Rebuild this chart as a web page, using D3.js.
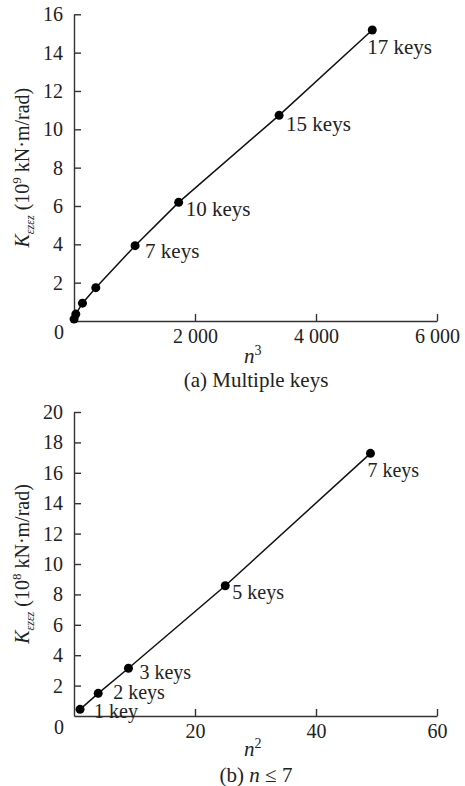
<!DOCTYPE html>
<html>
<head>
<meta charset="utf-8">
<script src="https://cdn.jsdelivr.net/npm/d3@7"></script>
<style>
  body { margin: 0; background: #fff; }
  svg { display: block; font-family: "Liberation Serif", "Times New Roman", serif; }
  .axis path, .axis line { stroke: #333; stroke-width: 1.4; }
  .axis text { font-size: 20px; fill: #222; font-family: "Liberation Serif", serif; }
</style>
</head>
<body>
<svg width="465" height="786"></svg>
<script>
// Grafico (a): chiavi multiple, K contro n^3
const nCubed = [1, 30, 140, 360, 1010, 1730, 3390, 4930];
const kMulti = [0.1, 0.36, 0.93, 1.74, 3.93, 6.19, 10.73, 15.18];
const labelsMulti = ["", "", "", "", "7 keys", "10 keys", "15 keys", "17 keys"];
const xTicksA = [2000, 4000, 6000];
const yTicksA = [2, 4, 6, 8, 10, 12, 14, 16];

// Grafico (b): n <= 7, K contro n^2
const nSquared = [1, 4, 9, 25, 49];
const kSmall = [0.44, 1.49, 3.14, 8.57, 17.28];
const labelsSmall = ["1 key", "2 keys", "3 keys", "5 keys", "7 keys"];
const xTicksB = [20, 40, 60];
const yTicksB = [2, 4, 6, 8, 10, 12, 14, 16, 18, 20];

const svg = d3.select("svg");

// spostamento delle etichette rispetto al punto (dx, dy) e dimensione del testo
const offA = [[0,0],[0,0],[0,0],[0,0],[10,12],[7,14],[7,16],[-5,24]];
const offB = [[14,9],[15,6],[11,11],[7,13],[-3,24]];

function drawPanel(opt) {
  const x = d3.scaleLinear().domain(opt.xDomain).range([74, 437]);
  const y = d3.scaleLinear().domain(opt.yDomain).range([opt.y0, opt.y1]);
  const g = svg.append("g");

  // assi con tacche verso l'interno
  g.append("g")
    .attr("class", "axis")
    .attr("transform", `translate(0,${opt.y0})`)
    .call(d3.axisBottom(x).tickValues(opt.xTicks).tickSizeInner(-7).tickSizeOuter(0).tickPadding(8)
      .tickFormat(d => d3.format(",")(d).replace(",", " ")));

  g.append("g")
    .attr("class", "axis")
    .attr("transform", "translate(74,0)")
    .call(d3.axisLeft(y).tickValues(opt.yTicks).tickSizeInner(-7).tickSizeOuter(0).tickPadding(11));

  // lo "0" nell'angolo
  g.append("text")
    .attr("x", 59).attr("y", opt.y0 + 18)
    .attr("text-anchor", "middle")
    .style("font-size", "20px").style("fill", "#222")
    .text("0");

  const pts = opt.xs.map((d, i) => ({x: d, y: opt.ys[i], label: opt.labels[i], off: opt.offs[i]}));

  g.append("path")
    .datum(pts)
    .attr("fill", "none")
    .attr("stroke", "#111")
    .attr("stroke-width", 1.5)
    .attr("d", d3.line().x(d => x(d.x)).y(d => y(d.y)));

  g.selectAll("circle")
    .data(pts)
    .join("circle")
    .attr("cx", d => x(d.x))
    .attr("cy", d => y(d.y))
    .attr("r", 4.5)
    .attr("fill", "#000");

  g.selectAll("text.lab")
    .data(pts.filter(d => d.label))
    .join("text")
    .attr("class", "lab")
    .attr("x", d => x(d.x) + d.off[0])
    .attr("y", d => y(d.y) + d.off[1])
    .style("font-size", opt.labSize).style("fill", "#222")
    .text(d => d.label);

  // titolo asse x con esponente
  const xt = g.append("text")
    .attr("x", 244).attr("y", opt.xTitleY)
    .style("font-size", "21px").style("fill", "#222");
  xt.append("tspan").style("font-style", "italic").text("n");
  xt.append("tspan").attr("dy", -8).style("font-size", "14px").text(opt.xExp);

  // didascalia
  const cap = g.append("text")
    .attr("x", 256).attr("y", opt.capY)
    .attr("text-anchor", "middle")
    .style("font-size", "21px").style("fill", "#222");
  opt.caption.forEach(c => cap.append("tspan").style("font-style", c[1] ? "italic" : "normal").text(c[0]));

  // titolo asse y ruotato
  const yt = g.append("text")
    .attr("transform", `translate(29,${(opt.y0 + opt.y1) / 2}) rotate(-90)`)
    .attr("text-anchor", "middle")
    .style("font-size", "20px").style("fill", "#222");
  yt.append("tspan").style("font-style", "italic").text("K");
  yt.append("tspan").attr("dy", 5).style("font-size", "12px").style("font-style", "italic").text("εzεz");
  yt.append("tspan").attr("dy", -5).text(" (10");
  yt.append("tspan").attr("dy", -8).style("font-size", "13px").text(opt.yExp);
  yt.append("tspan").attr("dy", 8).text(" kN·m/rad)");
}

drawPanel({
  xDomain: [0, 6000], yDomain: [0, 16], y0: 321, y1: 14.3,
  xTicks: xTicksA, yTicks: yTicksA,
  xs: nCubed, ys: kMulti, labels: labelsMulti, offs: offA, labSize: "21px",
  xExp: "3", yExp: "9", xTitleY: 363, capY: 387,
  caption: [["(a) Multiple keys", false]]
});

drawPanel({
  xDomain: [0, 60], yDomain: [0, 20], y0: 716, y1: 412,
  xTicks: xTicksB, yTicks: yTicksB,
  xs: nSquared, ys: kSmall, labels: labelsSmall, offs: offB, labSize: "20px",
  xExp: "2", yExp: "8", xTitleY: 756, capY: 782,
  caption: [["(b)  ", false], ["n", true], [" ≤ 7", false]]
});
</script>
</body>
</html>
